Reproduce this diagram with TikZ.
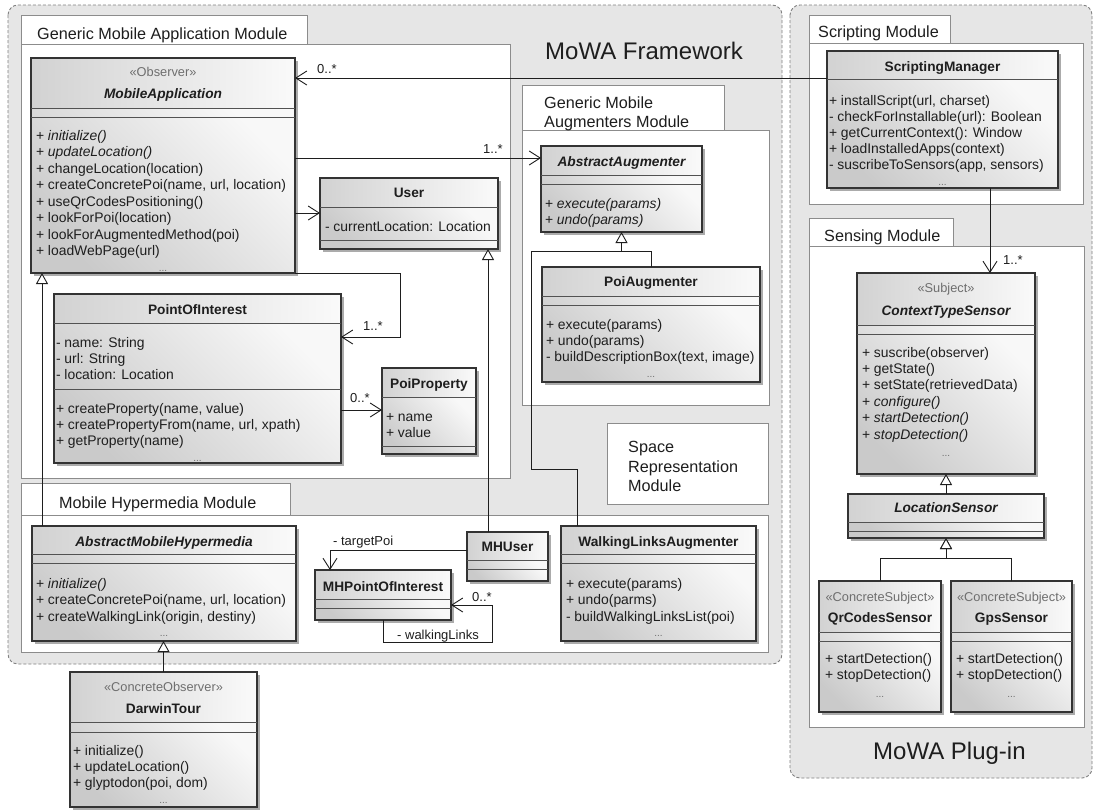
\documentclass[tikz,border=0pt]{standalone}
\usepackage{fontspec}
\setmainfont{Liberation Sans}
\usetikzlibrary{arrows.meta,calc}
\definecolor{framefill}{HTML}{E6E6E6}
\definecolor{framedraw}{HTML}{808080}
\definecolor{pkgdraw}{HTML}{8C8C8C}
\definecolor{clsdraw}{HTML}{333333}
\definecolor{hdrL}{HTML}{D2D2D2}
\definecolor{hdrR}{HTML}{FAFAFA}
\definecolor{bodyL}{HTML}{CACACA}
\definecolor{bodyR}{HTML}{F8F8F8}
\definecolor{shadowc}{HTML}{ABABAB}
\definecolor{txt}{HTML}{1E1E1E}
\definecolor{stereo}{HTML}{6E6E6E}
\tikzset{
 framebox/.style={draw=framedraw, fill=framefill, dash pattern=on 3pt off 2pt, rounded corners=10pt, line width=0.9pt},
 pkg/.style={draw=pkgdraw, fill=white, line width=0.9pt},
 classbox/.style={draw=clsdraw, line width=1.2pt, inner sep=0pt, outer sep=0pt, rectangle},
 sepline/.style={draw=clsdraw!85, line width=0.9pt},
 hdrshade/.style={left color=hdrL, right color=hdrR},
 bodyshade/.style={left color=bodyL, right color=bodyR, shading angle=135},
 mem/.style={inner sep=0pt, outer sep=0pt, text=txt, font=\fontsize{13.9}{16}\selectfont, anchor=base west},
 cname/.style={inner sep=0pt, text=txt, font=\fontsize{13.7}{16}\selectfont\bfseries, anchor=base},
 aname/.style={inner sep=0pt, text=txt, font=\fontsize{13.7}{16}\selectfont\bfseries\itshape, anchor=base},
 stereotype/.style={inner sep=0pt, text=stereo, font=\fontsize{12.8}{15}\selectfont, anchor=base},
 dotsst/.style={inner sep=0pt, text=stereo, font=\fontsize{10}{12}\selectfont, anchor=base},
 pkglabel/.style={inner sep=0pt, text=txt, font=\fontsize{16.2}{19}\selectfont, anchor=base west},
 frametitle/.style={inner sep=0pt, text=txt, font=\fontsize{24}{28}\selectfont, anchor=base west},
 mult/.style={inner sep=0pt, text=txt, font=\fontsize{13}{15}\selectfont, anchor=base west},
 conn/.style={draw=txt, line width=0.9pt},
 assoc/.style={conn, -{Straight Barb[length=11pt,width=14pt]}},
 gen/.style={conn, -{Triangle[open,fill=white,length=11pt,width=12pt]}},
}
% #1 name, #2 x1, #3 y1, #4 x2, #5 y2, #6 sep1, #7 sep2 (may be empty)
\newcommand{\UClass}[7]{%
  \fill[shadowc] ({#2+3},{#3+3}) rectangle ({#4+3},{#5+3});
  \shade[hdrshade] (#2,#3) rectangle (#4,#6);
  \shade[bodyshade] (#2,#6) rectangle (#4,#5);
  \node[classbox, minimum width={#4-#2}, minimum height={#5-#3}] (#1) at ({(#2+#4)/2},{(#3+#5)/2}) {};
  \draw[sepline] (#1.west |- 0,#6) -- (#1.east |- 0,#6);
  \ifx&#7&\else\draw[sepline] (#1.west |- 0,#7) -- (#1.east |- 0,#7);\fi
}
% #1 prefix, #2 x, #3 first baseline, #4 spacing, #5 list
\newcommand{\MemList}[5]{%
  \foreach [count=\mi] \mt in {#5}{\node[mem] (#1-\mi) at (#2,{#3+#4*(\mi-1)}) {\mt};}
}
\begin{document}
\begin{tikzpicture}[x=1pt,y=-1pt]
\useasboundingbox (0,0) rectangle (1094,809);
\fill[white] (0,0) rectangle (1094,809);
% frames
\path[framebox] (8,5) rectangle (782,664);
\path[framebox] (790,5) rectangle (1092,778);
\node[frametitle] (fwtitle) at (545,59) {MoWA Framework};
\node[frametitle] (pititle) at (873,759) {MoWA Plug-in};
% packages
\path[pkg] (21,15) rectangle (307,44);
\path[pkg] (21,44) rectangle (510,478);
\node[pkglabel] (gmam) at (37,39) {Generic Mobile Application Module};
\path[pkg] (522,85) rectangle (724,130);
\path[pkg] (522,130) rectangle (769,405);
\node[pkglabel] (gmauga) at (544,108) {Generic Mobile};
\node[pkglabel] (gmaugb) at (544,127) {Augmenters Module};
\path[pkg] (21,483) rectangle (290,515);
\path[pkg] (21,515) rectangle (768,652);
\node[pkglabel] (mhm) at (59,508) {Mobile Hypermedia Module};
\path[pkg] (809,15) rectangle (950,43);
\path[pkg] (809,43) rectangle (1083,204);
\node[pkglabel] (scm) at (818,37) {Scripting Module};
\path[pkg] (809,218) rectangle (953,246);
\path[pkg] (809,246) rectangle (1084,727);
\node[pkglabel] (sem) at (824,241) {Sensing Module};
\path[pkg] (607,423) rectangle (768,504);
\node[pkglabel] (srm1) at (628,452) {Space};
\node[pkglabel] (srm2) at (628,472) {Representation};
\node[pkglabel] (srm3) at (628,491) {Module};
% classes
\UClass{ma}{31}{58}{295}{273}{108}{117}
\node[stereotype] (ma-st) at (163,76) {«Observer»};
\node[aname] (ma-n) at (163,98) {MobileApplication};
\MemList{ma-m}{36}{140}{16.57}{{+ \textit{initialize()}},{+ \textit{updateLocation()}},{+ changeLocation(location)},{+ createConcretePoi(name, url, location)},{+ useQrCodesPositioning()},{+ lookForPoi(location)},{+ lookForAugmentedMethod(poi)},{+ loadWebPage(url)}}
\node[dotsst] (ma-d) at (163,271) {...};

\UClass{user}{320}{178}{498}{249}{207}{240}
\node[cname] (user-n) at (409,197) {User};
\node[mem] (user-a) at (325,231) {- currentLocation: Location};

\UClass{poi}{54}{294}{341}{463}{323}{389}
\node[cname] (poi-n) at (197.5,314) {PointOfInterest};
\MemList{poi-a}{56}{347}{16}{{- name: String},{- url: String},{- location: Location}}
\MemList{poi-m}{56}{413}{16.4}{{+ createProperty(name, value)},{+ createPropertyFrom(name, url, xpath)},{+ getProperty(name)}}
\node[dotsst] (poi-d) at (197.5,461) {...};

\UClass{pp}{382}{368}{476}{454}{397}{446}
\node[cname] (pp-n) at (429,388) {PoiProperty};
\MemList{pp-a}{386}{421}{16}{{+ name},{+ value}}

\UClass{amh}{32}{526}{296}{641}{554}{563}
\node[aname] (amh-n) at (164,546) {AbstractMobileHypermedia};
\MemList{amh-m}{36}{588}{16.5}{{+ \textit{initialize()}},{+ createConcretePoi(name, url, location)},{+ createWalkingLink(origin, destiny)}}
\node[dotsst] (amh-d) at (164,636) {...};

\UClass{dt}{70}{672}{257}{807}{722}{732}
\node[stereotype] (dt-st) at (163.5,691) {«ConcreteObserver»};
\node[cname] (dt-n) at (163.5,713) {DarwinTour};
\MemList{dt-m}{73}{755}{16}{{+ initialize()},{+ updateLocation()},{+ glyptodon(poi, dom)}}
\node[dotsst] (dt-d) at (163.5,803) {...};

\UClass{mhu}{467}{532}{548}{581}{560}{569}
\node[cname] (mhu-n) at (507.5,551) {MHUser};

\UClass{mhp}{315}{570}{451}{620}{599}{608}
\node[cname] (mhp-n) at (383,591) {MHPointOfInterest};

\UClass{wla}{561}{526}{756}{641}{554}{563}
\node[cname] (wla-n) at (658.5,546) {WalkingLinksAugmenter};
\MemList{wla-m}{566}{588}{16.5}{{+ execute(params)},{+ undo(parms)},{- buildWalkingLinksList(poi)}}
\node[dotsst] (wla-d) at (658.5,636) {...};

\UClass{aa}{541}{146}{702}{232}{175}{184}
\node[aname] (aa-n) at (621.5,166) {AbstractAugmenter};
\MemList{aa-m}{545}{208}{16}{{+ \textit{execute(params)}},{+ \textit{undo(params)}}}

\UClass{pa}{542}{267}{760}{382}{296}{305}
\node[cname] (pa-n) at (651,286) {PoiAugmenter};
\MemList{pa-m}{546}{329}{16}{{+ execute(params)},{+ undo(params)},{- buildDescriptionBox(text, image)}}
\node[dotsst] (pa-d) at (651,377) {...};

\UClass{sm}{827}{51}{1058}{188}{79}{}
\node[cname] (sm-n) at (942.5,71) {ScriptingManager};
\MemList{sm-m}{829}{105}{16}{{+ installScript(url, charset)},{- checkForInstallable(url): Boolean},{+ getCurrentContext(): Window},{+ loadInstalledApps(context)},{- suscribeToSensors(app, sensors)}}
\node[dotsst] (sm-d) at (942.5,185) {...};

\UClass{cts}{857}{273}{1035}{474}{325}{334}
\node[stereotype] (cts-st) at (946,292) {«Subject»};
\node[aname] (cts-n) at (946,315) {ContextTypeSensor};
\MemList{cts-m}{862}{357}{16.4}{{+ suscribe(observer)},{+ getState()},{+ setState(retrievedData)},{+ \textit{configure()}},{+ \textit{startDetection()}},{+ \textit{stopDetection()}}}
\node[dotsst] (cts-d) at (946,456) {...};

\UClass{ls}{848}{494}{1044}{538}{522}{531}
\node[aname] (ls-n) at (946,512) {LocationSensor};

\UClass{qr}{819}{581}{941}{712}{632}{641}
\node[stereotype] (qr-st) at (880,601) {«ConcreteSubject»};
\node[cname] (qr-n) at (880,622) {QrCodesSensor};
\MemList{qr-m}{825}{663}{16.5}{{+ startDetection()},{+ stopDetection()}}
\node[dotsst] (qr-d) at (880,697) {...};

\UClass{gps}{951}{581}{1072}{712}{632}{641}
\node[stereotype] (gps-st) at (1011.5,601) {«ConcreteSubject»};
\node[cname] (gps-n) at (1011.5,622) {GpsSensor};
\MemList{gps-m}{956}{663}{16.5}{{+ startDetection()},{+ stopDetection()}}
\node[dotsst] (gps-d) at (1011.5,697) {...};

% connectors
\draw[assoc] (sm.west |- 0,78) -- (ma.east |- 0,78);
\node[mult] (m1) at (317,73) {0..*};
\draw[assoc] (ma.east |- 0,158) -- (aa.west |- 0,158);
\node[mult] (m2) at (483,153) {1..*};
\draw[assoc] (ma.east |- 0,213) -- (user.west |- 0,213);
\draw[assoc] (ma.south east) -- ++(105,0) |- (poi.east |- 0,337);
\node[mult] (m3) at (363,330) {1..*};
\draw[assoc] (poi.east |- 0,410) -- (pp.west |- 0,410);
\node[mult] (m4) at (350,402) {0..*};
\draw[gen] (amh.north -| 42,0) -- (ma.south -| 42,0);
\draw[gen] (dt.north) -- (amh.south -| dt.north);
\draw[gen] (mhu.north -| 488,0) -- (user.south -| 488,0);
\draw[assoc] (mhu.west |- 0,550) -| (mhp.north -| 330,0);
\node[mult] (m5) at (333,545) {- targetPoi};
\draw[assoc] (mhp.south) |- (492,642) |- (mhp.east |- 0,605);
\node[mult] (m6) at (472,601) {0..*};
\node[mult] (m7) at (397,639) {- walkingLinks};
\draw[gen] (pa.north) |- (aa.south |- 0,251) -- (aa.south);
\draw[conn] (wla.north -| 577,0) |- (531,469) |- (aa.south |- 0,251);
\draw[assoc] (sm.south -| 990,0) -- (cts.north -| 990,0);
\node[mult] (m8) at (1003,264) {1..*};
\draw[gen] (ls.north) -- (cts.south);
\draw[gen] (qr.north) |- (ls.south |- 0,558) -- (ls.south);
\draw[gen] (gps.north) |- (ls.south |- 0,558) -- (ls.south);
\end{tikzpicture}
\end{document}
